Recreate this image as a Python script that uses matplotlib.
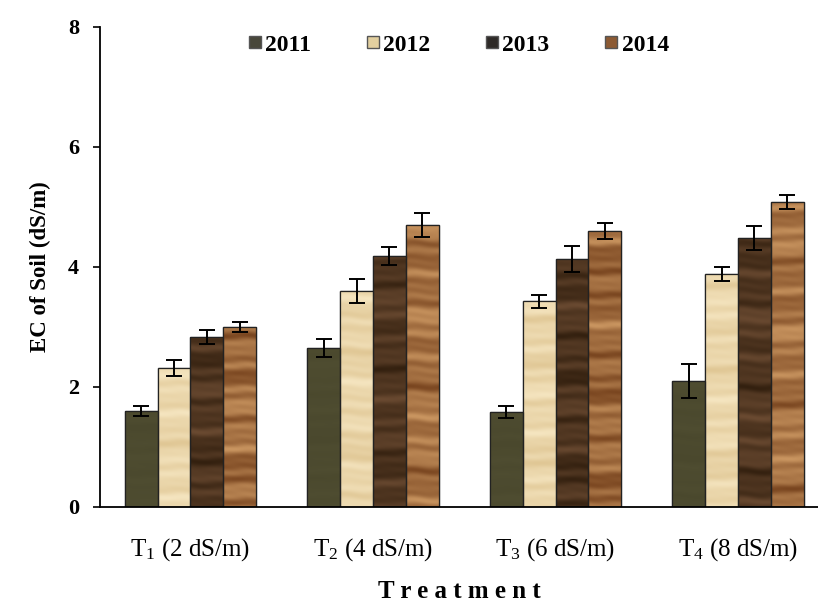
import numpy as np
import matplotlib.pyplot as plt
import matplotlib
from matplotlib.colors import LinearSegmentedColormap
from matplotlib.lines import Line2D

matplotlib.rcParams.update({
    'font.family': 'Liberation Serif',
    'mathtext.fontset': 'custom',
    'mathtext.rm': 'Liberation Serif',
    'mathtext.it': 'Liberation Serif:italic',
    'mathtext.bf': 'Liberation Serif:bold',
})

treatments = ['T$_1$ (2 dS/m)', 'T$_2$ (4 dS/m)', 'T$_3$ (6 dS/m)', 'T$_4$ (8 dS/m)']
years = ['2011', '2012', '2013', '2014']
ec_2011 = [1.60, 2.65, 1.58, 2.10]
ec_2012 = [2.32, 3.60, 3.43, 3.88]
ec_2013 = [2.83, 4.18, 4.13, 4.48]
ec_2014 = [3.00, 4.70, 4.60, 5.08]
err_2011 = [0.08, 0.15, 0.10, 0.28]
err_2012 = [0.13, 0.20, 0.11, 0.12]
err_2013 = [0.12, 0.15, 0.22, 0.20]
err_2014 = [0.08, 0.20, 0.13, 0.12]

values = [ec_2011, ec_2012, ec_2013, ec_2014]
errors = [err_2011, err_2012, err_2013, err_2014]

# (dark, light) tones of the wood grain for each year
tones = [
    ('#4a482d', '#4f4d31'),
    ('#e0c795', '#f5e5c0'),
    ('#33200f', '#6a4a31'),
    ('#7a4620', '#c99560'),
]
legend_colors = ['#48473a', '#e2cf9f', '#2e2a27', '#8c5a33']


def grain(rows, cols, seed):
    # irregular horizontal wood-grain bands from a few sine waves
    y = np.arange(rows)[:, None].astype(float)
    x = np.arange(cols)[None, :].astype(float)
    yy = y + 0.8 * np.sin(x / 11.0 + seed) + 0.4 * np.sin(x / 5.3 + 2 * seed)
    g = (np.sin(yy / 1.9 + seed) * 0.30
         + np.sin(yy / 3.3 + 1.7 * seed) * 0.40
         + np.sin(yy / 7.1 + 0.6 * seed) * 0.35
         + np.sin(yy / 17.0 + 0.3 * seed) * 0.25
         + np.sin(y / 1.3 + x / 6.0) * 0.06)
    g = (g - g.min()) / (g.max() - g.min())
    return g


fig = plt.figure(figsize=(8.18, 6.12), dpi=100)
ax = fig.add_axes([0.1222, 0.1716, 0.8778, 0.7843])

x = np.arange(len(treatments))
width = 0.18

for k, (vals, errs) in enumerate(zip(values, errors)):
    pos = x + (k - 1.5) * width
    cmap = LinearSegmentedColormap.from_list('wood%d' % k, tones[k])
    bars = ax.bar(pos, vals, width, color=tones[k][1], edgecolor='#222222',
                  linewidth=0.9, zorder=2)
    for i, b in enumerate(bars):
        h = b.get_height()
        rows = max(int(h * 60), 2)
        tex = grain(rows, 34, seed=3.1 * k + 1.7 * i)
        img = ax.imshow(tex, cmap=cmap, extent=(b.get_x(), b.get_x() + width, 0, h),
                        origin='lower', aspect='auto', interpolation='bilinear',
                        zorder=2.1)
        img.set_clip_path(b)
    ax.bar(pos, vals, width, fill=False, edgecolor='#222222', linewidth=0.9, zorder=2.2)
    ax.errorbar(pos, vals, yerr=errs, fmt='none', ecolor='black', elinewidth=1.4,
                capsize=6, capthick=1.4, zorder=3)

ax.set_xlim(-0.496, 3.438)
ax.set_ylim(0, 8)
ax.set_yticks([0, 2, 4, 6, 8])
ax.set_xticks(x)
ax.set_xticklabels(treatments, fontsize=18)
for lab in ax.get_yticklabels():
    lab.set_fontweight('bold')
    lab.set_fontsize(16)
ax.tick_params(axis='y', direction='out', length=5, width=1.2, pad=10)
ax.tick_params(axis='x', length=0, pad=21)

for side in ['top', 'right']:
    ax.spines[side].set_visible(False)
for side in ['left', 'bottom']:
    ax.spines[side].set_linewidth(1.3)

ax.set_ylabel('EC of Soil (dS/m)', fontsize=16.5, fontweight='bold', labelpad=12)
ax.set_xlabel('T r e a t m e n t', fontsize=18, fontweight='bold', labelpad=12)

handles = [Line2D([], [], marker='s', ls='', mfc=c, mec='#555555', ms=9)
           for c in legend_colors]
ax.legend(handles, years, ncol=4, loc='center', bbox_to_anchor=(0.499, 0.9625),
          frameon=False, handlelength=0.6, handletextpad=0.15, columnspacing=2.3,
          prop={'weight': 'bold', 'size': 17})

fig.savefig('out.png', dpi=100)
